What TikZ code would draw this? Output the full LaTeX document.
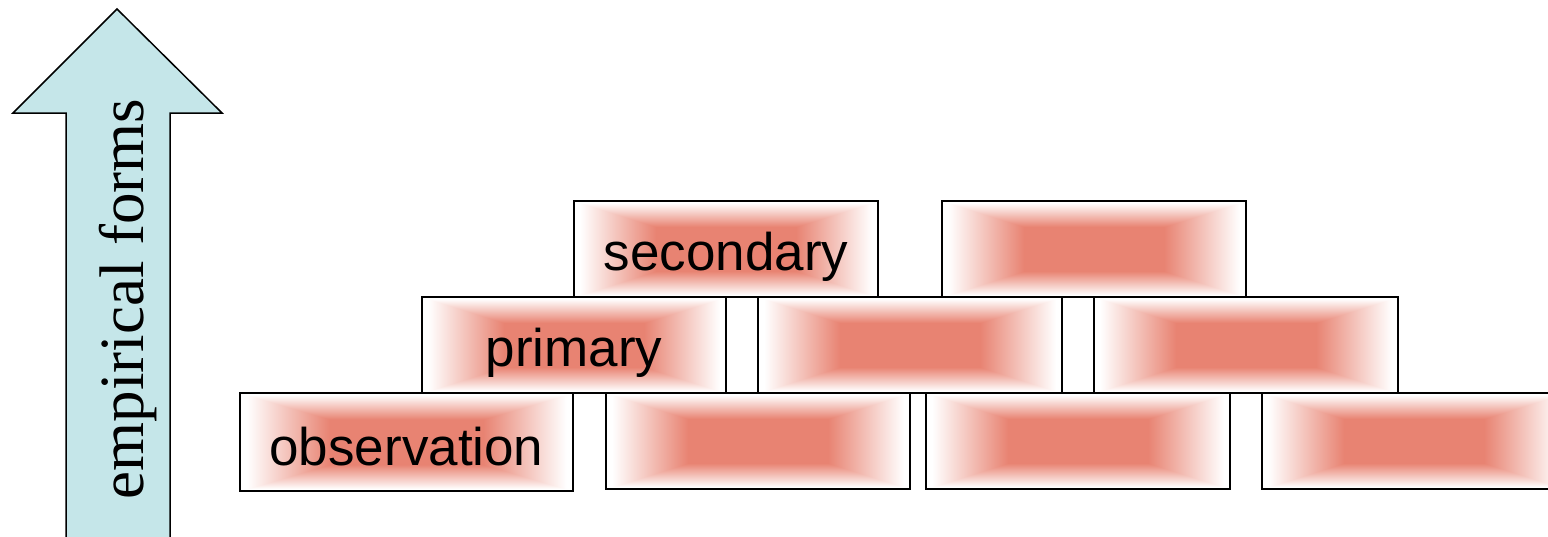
\documentclass[tikz,border=0pt]{standalone}
\usepackage{fontspec}
\setmainfont{Liberation Sans}
\newfontfamily\timesfont{Liberation Serif}
\definecolor{arrowfill}{RGB}{197,230,233}
\pgfdeclarefunctionalshading{brickshade}{\pgfpointorigin}{\pgfpoint{100bp}{100bp}}{}{
  50 sub abs 25 div
  exch 50 sub abs 25 div
  2 copy lt {exch} if pop
  0.46 sub 0.50 div
  dup 0 lt {pop 0} if
  dup 1 gt {pop 1} if
  dup 0.09 mul 0.91 add exch
  dup 0.486 mul 0.514 add exch
  0.553 mul 0.447 add
}
\begin{document}
\begin{tikzpicture}[x=1pt,y=-1pt,
  brick/.style={draw=black, line width=2pt, shading=brickshade, shade,
    rectangle, inner sep=0pt, minimum width=304pt, minimum height=96pt,
    font=\fontsize{53}{60}\selectfont, text height=42pt, text depth=0pt},
  arrowlabel/.style={font=\timesfont\fontsize{63}{70}\selectfont, rotate=90, anchor=base, inner sep=0pt}]
\useasboundingbox (0,0) rectangle (1548,536);
% arrow
\draw[fill=arrowfill, line width=1.5pt, line join=miter]
  (66,545) -- (66,113) -- (13,113) -- (117,9) -- (222,113) -- (170,113) -- (170,545) -- cycle;
\node[arrowlabel] (lbl) at (143,299) {empirical forms};
% row 1 (bottom)
\node[brick, minimum width=333pt, minimum height=98pt, text height=46pt] (obs) at (406.5,442) {observation};
\node[brick] (r1b) at (758,441) {};
\node[brick] (r1c) at (1078,441) {};
\node[brick] (r1d) at (1414,441) {};
% row 2
\node[brick] (prim) at (574,345) {primary};
\node[brick] (r2b) at (910,345) {};
\node[brick] (r2c) at (1246,345) {};
% row 3
\node[brick] (sec) at (726,249) {secondary};
\node[brick] (r3b) at (1094,249) {};
\end{tikzpicture}
\end{document}
